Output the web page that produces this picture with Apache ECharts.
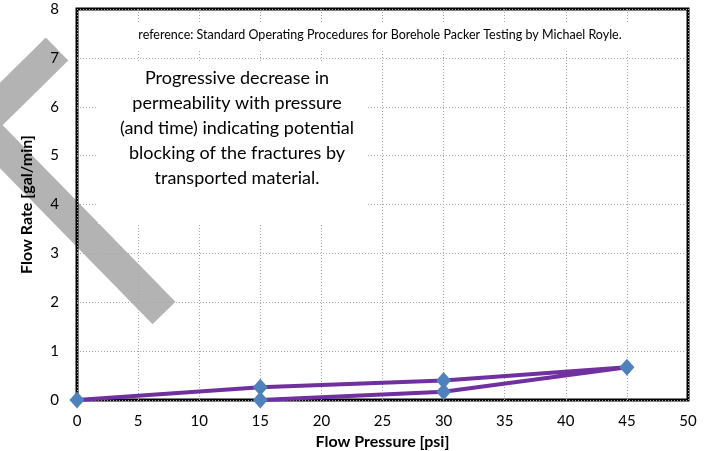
<!DOCTYPE html>
<html>
<head>
<meta charset="utf-8">
<script src="https://cdn.jsdelivr.net/npm/echarts@6/dist/echarts.min.js"></script>
<style>
  html, body { margin: 0; padding: 0; background: #fff; }
  #chart { width: 706px; height: 451px; }
</style>
</head>
<body>
<div id="chart"></div>
<script>
// test sequence: pressure up then back down
const pressure = [0, 15, 30, 45, 30, 15]
const flowRate = [0, 0.26, 0.4, 0.67, 0.17, 0]
const xTicks = { min: 0, max: 50, step: 5 }
const yTicks = { min: 0, max: 8, step: 1 }
const noteLines = [
  'Progressive decrease in',
  'permeability with pressure',
  '(and time) indicating potential',
  'blocking of the fractures by',
  'transported material.',
]
const refText = 'reference: Standard Operating Procedures for Borehole Packer Testing by Michael Royle.'

const font = 'Lato, "Open Sans", sans-serif'
const chart = echarts.init(document.getElementById('chart'))

const gridLine = {
  show: true,
  lineStyle: { color: '#a6a6a6', type: [1, 2], width: 1 },
}

const option = {
  backgroundColor: '#fff',
  animation: false,
  grid: {
    left: 77,
    right: 18,
    top: 9,
    bottom: 51,
    outerBoundsMode: 'none',
    containLabel: false,
    show: true,
    borderColor: '#000',
    borderWidth: 3,
    backgroundColor: 'transparent',
  },
  xAxis: {
    type: 'value',
    min: xTicks.min,
    max: xTicks.max,
    interval: xTicks.step,
    name: 'Flow Pressure [psi]',
    nameLocation: 'middle',
    nameGap: 32,
    nameTextStyle: { fontFamily: font, fontWeight: 'bold', fontSize: 16, color: '#000' },
    axisLine: { show: false },
    axisTick: { show: false },
    axisLabel: { fontFamily: font, fontSize: 15, color: '#000', margin: 14 },
    splitLine: gridLine,
  },
  yAxis: {
    type: 'value',
    min: yTicks.min,
    max: yTicks.max,
    interval: yTicks.step,
    name: 'Flow Rate [gal/min]',
    nameLocation: 'middle',
    nameGap: 42,
    nameTextStyle: { fontFamily: font, fontWeight: 'bold', fontSize: 16, color: '#000' },
    axisLine: { show: false },
    axisTick: { show: false },
    axisLabel: { fontFamily: font, fontSize: 15, color: '#000', margin: 18 },
    splitLine: gridLine,
  },
  graphic: [
    {
      type: 'polyline',
      z: -1,
      shape: { points: [[57, 49], [-20, 125], [164, 313]] },
      style: { stroke: '#b3b3b3', lineWidth: 32, fill: null, lineJoin: 'miter', lineCap: 'butt' },
    },
    {
      type: 'rect',
      z: 1,
      shape: { x: 128, y: 22, width: 504, height: 28 },
      style: { fill: '#fff' },
    },
    {
      type: 'text',
      z: 2,
      x: 380,
      y: 35,
      style: {
        text: refText,
        fontFamily: font,
        fontSize: 12.5,
        fill: '#000',
        align: 'center',
        verticalAlign: 'middle',
      },
    },
    {
      type: 'rect',
      z: 1,
      shape: { x: 98, y: 62, width: 270, height: 162 },
      style: { fill: '#fff' },
    },
    {
      type: 'text',
      z: 2,
      x: 237,
      y: 66,
      style: {
        text: noteLines.join('\n'),
        fontFamily: font,
        fontSize: 18,
        lineHeight: 25,
        fill: '#000',
        align: 'center',
        verticalAlign: 'top',
      },
    },
  ],
  series: [
    {
      type: 'line',
      data: pressure.map((p, i) => [p, flowRate[i]]),
      symbol: 'diamond',
      symbolSize: [15, 17],
      itemStyle: { color: '#4f81bd' },
      lineStyle: { color: '#7030a0', width: 4 },
      z: 3,
    },
  ],
}

chart.setOption(option)
</script>
</body>
</html>
